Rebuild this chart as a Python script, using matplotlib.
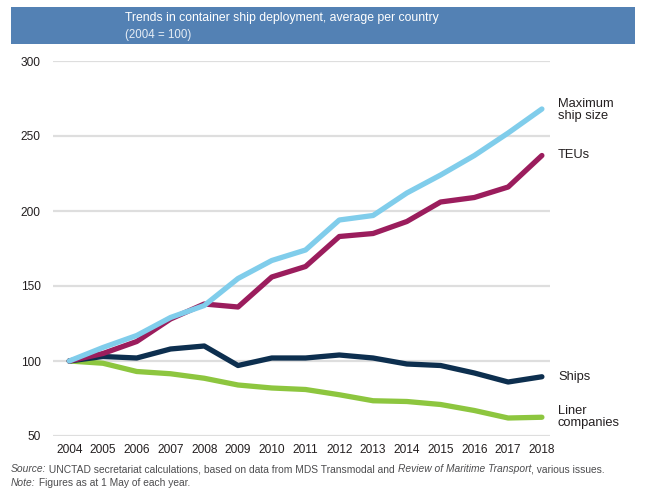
import matplotlib
matplotlib.use("Agg")
import matplotlib.pyplot as plt
from matplotlib import font_manager
from matplotlib.patches import Rectangle

years = list(range(2004, 2019))
max_ship_size = [100, 109, 117, 129, 137, 155, 167, 174, 194, 197, 212, 224, 237, 252, 268]
teus = [100, 105, 113, 128, 138, 136, 156, 163, 183, 185, 193, 206, 209, 216, 237]
ships = [100, 103, 102, 108, 110, 97, 102, 102, 104, 102, 98, 97, 92, 86, 89.5]
liner = [100, 98.5, 93, 91.5, 88.5, 84, 82, 81, 77.5, 73.5, 73, 71, 67, 62, 62.5]
y_ticks = [50, 100, 150, 200, 250, 300]

def pick(names):
    for n in names:
        try:
            font_manager.findfont(n, fallback_to_default=False)
            return n
        except Exception:
            pass
    return "DejaVu Sans"

narrow = pick(["Liberation Sans Narrow", "Arial Narrow", "Liberation Sans"])
regular = pick(["Liberation Sans", "Arial"])

fig = plt.figure(figsize=(6.49, 4.97), dpi=100)
W, H = 649, 497

# header bar
fig.patches.append(Rectangle((11 / W, 1 - 44 / H), (635 - 11) / W, 37 / H,
                             transform=fig.transFigure, facecolor="#5381b4",
                             edgecolor="none", zorder=0))
fig.text(125 / W, 1 - 18 / H, "Trends in container ship deployment, average per country",
         color="white", fontsize=8.8, family=narrow, va="center", ha="left")
fig.text(125 / W, 1 - 35 / H, "(2004 = 100)", color="#e6edf5", fontsize=8.3,
         family=narrow, va="center", ha="left")

ax = fig.add_axes([53 / W, 1 - 436 / H, (550 - 53) / W, (436 - 61) / H])
for s in ax.spines.values():
    s.set_visible(False)
ax.set_xlim(2004 - 0.48, 2018 + 0.24)
ax.set_ylim(50, 300)
ax.set_yticks(y_ticks)
ax.set_xticks(years)
ax.tick_params(length=0, labelsize=8.6, labelcolor="#231f20", pad=9)
ax.tick_params(axis="x", pad=6)
for lab in ax.get_xticklabels() + ax.get_yticklabels():
    lab.set_family(narrow)
ax.yaxis.grid(True, color="#dedede", linewidth=1.6)
ax.set_axisbelow(True)

lw = 3.8
ax.plot(years, liner, color="#8dc63f", lw=lw, solid_capstyle="round", clip_on=False, zorder=2)
ax.plot(years, ships, color="#0d2f4f", lw=lw, solid_capstyle="round", clip_on=False, zorder=3)
ax.plot(years, teus, color="#9b1d5d", lw=lw, solid_capstyle="round", clip_on=False, zorder=4)
ax.plot(years, max_ship_size, color="#80cdeb", lw=lw, solid_capstyle="round", clip_on=False, zorder=5)

lab_kw = dict(fontsize=9.3, family=narrow, color="#231f20", va="center", ha="left",
              linespacing=1.05)
fig.text(558 / W, 1 - 110 / H, "Maximum\nship size", **lab_kw)
fig.text(558 / W, 1 - 155 / H, "TEUs", **lab_kw)
fig.text(558 / W, 1 - 377 / H, "Ships", **lab_kw)
fig.text(558 / W, 1 - 417 / H, "Liner\ncompanies", **lab_kw)

src_col = "#4d4d4f"
fs_src = 7.35
t1 = fig.text(11 / W, 1 - 469 / H, "Source:", fontsize=fs_src, family=regular, style="italic",
              color=src_col, va="center", ha="left")
fig.canvas.draw()
r = fig.canvas.get_renderer()

def after(t, s, italic=False, shift=0.0):
    bb = t.get_window_extent(r)
    nt = fig.text((bb.x1 + shift) / W, t.get_position()[1], s, fontsize=fs_src, family=regular,
                  style="italic" if italic else "normal", color=src_col,
                  va="center", ha="left")
    return nt

t2 = after(t1, " UNCTAD secretariat calculations, based on data from MDS Transmodal and ", shift=0.0)
t3 = after(t2, "Review of Maritime Transport", italic=True)
t4 = after(t3, ", various issues.", shift=-0.8)
n1 = fig.text(11 / W, 1 - 483 / H, "Note:", fontsize=fs_src, family=regular, style="italic",
              color=src_col, va="center", ha="left")
n2 = after(n1, " Figures as at 1 May of each year.", shift=0.0)

fig.savefig("out.png", dpi=100)
